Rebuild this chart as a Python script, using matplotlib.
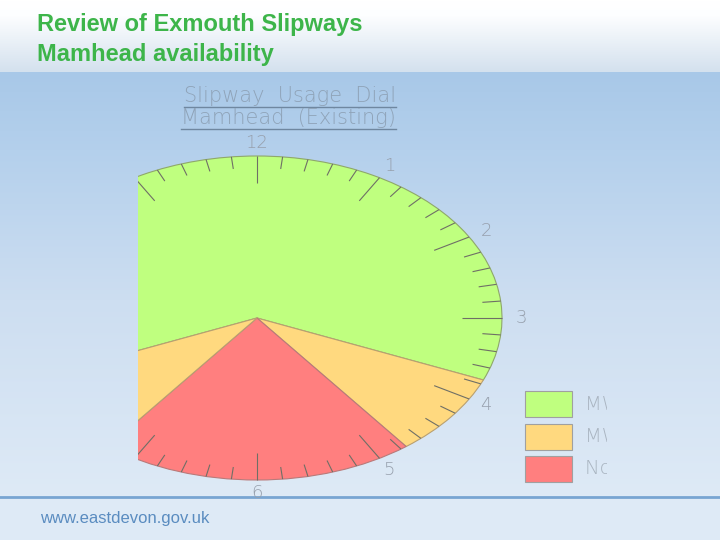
import numpy as np
import matplotlib.pyplot as plt
from matplotlib.patches import Wedge, Rectangle

# dial segments in clock hours, running clockwise from start_hour
start_hour = 8.25
seg_hours = [7.5, 1.0, 2.5, 1.0]
seg_cat = [0, 1, 2, 1]

# legend categories (labels are cut off by the crop in the original slide)
cat_names = ['MWS Available', 'MWS Marginal', 'Not Available']
cat_colors = ['#bfff7f', '#ffd97f', '#ff7f7f']
cat_edges = ['#8fa86a', '#b9a070', '#b97a7a']

hour_labels = [str(h) for h in range(1, 13)]
chart_title = ['Slipway  Usage  Dial', 'Mamhead  (Existing)']

slide_title = ['Review of Exmouth Slipways', 'Mamhead availability']
footer = 'www.eastdevon.gov.uk'

W, H = 720, 540
fig = plt.figure(figsize=(7.2, 5.4), dpi=100)

# slide background
bg = fig.add_axes([0, 0, 1, 1])
ys = np.arange(H)
stops_y = [0, 15, 71, 72, 150, 300, 495, 540]
stops_c = np.array([[255, 255, 255], [253, 254, 255], [212, 225, 238],
                    [168, 200, 232], [180, 208, 236], [205, 222, 241],
                    [222, 234, 246], [222, 235, 246]]) / 255.0
grad = np.stack([np.interp(ys, stops_y, stops_c[:, k]) for k in range(3)], axis=-1)
bg.imshow(grad[:, None, :], aspect='auto', extent=[0, W, H, 0])
bg.set_xlim(0, W)
bg.set_ylim(H, 0)
bg.axis('off')
bg.axhline(496.5, color='#78a5d2', lw=2)

bg.text(37, 25, slide_title[0], fontsize=17, fontweight='bold', color='#3db54a',
        family='Liberation Sans', va='center')
bg.text(37, 54, slide_title[1], fontsize=17, fontweight='bold', color='#3db54a',
        family='Liberation Sans', va='center')
bg.text(40, 518, footer, fontsize=12, color='#5a8cc0', family='Liberation Sans', va='center')

# dial chart, cropped at its left side like in the slide
cx, cy, rx, ry = 257, 318, 245, 162
left, right, top, bottom = 138, 607, 80, 505
ax = fig.add_axes([left / W, 1 - bottom / H, (right - left) / W, (bottom - top) / H])
xmin, xmax = (left - cx) / rx, (right - cx) / rx
ax.set_xlim(xmin, xmax)
ax.set_ylim(-(bottom - cy) / ry, (cy - top) / ry)
ax.axis('off')


def clock_deg(h):
    return 90 - 30 * h


h0 = start_hour
for dur, c in zip(seg_hours, seg_cat):
    w = Wedge((0, 0), 1, clock_deg(h0 + dur), clock_deg(h0),
              facecolor=cat_colors[c], edgecolor=cat_edges[c], lw=0.8)
    ax.add_patch(w)
    h0 += dur

# minute and hour ticks
for m in range(60):
    a = np.deg2rad(clock_deg(m / 5))
    inner = 1 - (0.165 if m % 5 == 0 else 0.075)
    ax.plot([inner * np.cos(a), np.cos(a)], [inner * np.sin(a), np.sin(a)],
            color='#6f6f66', lw=0.8, solid_capstyle='butt')

# hour numbers; the ones on the cropped-away side are not visible
for i, lab in enumerate(hour_labels):
    a = np.deg2rad(clock_deg(i + 1))
    x = 1.08 * np.cos(a)
    if x < xmin + 0.02:
        continue
    ax.text(x, 1.08 * np.sin(a), lab, ha='center', va='center',
            fontsize=13, color='#97a0ad', fontweight='light', clip_on=True)

# chart title with underlines
tx = (396 - cx) / rx
title_objs = []
for k, line in enumerate(chart_title):
    t = ax.text(tx, (cy - 96 - 22 * k) / ry, line, ha='right', va='center',
                fontsize=15, color='#8fa3b8', fontweight='light', clip_on=True)
    title_objs.append(t)

# legend
box_x, box_w, box_h, pitch = (525 - left) / (right - left), 47 / (right - left), 26 / (bottom - top), 32.5 / (bottom - top)
box_top = (bottom - 391) / (bottom - top)
for k, name in enumerate(cat_names):
    y0 = box_top - box_h - k * pitch
    ax.add_patch(Rectangle((box_x, y0), box_w, box_h, transform=ax.transAxes,
                           facecolor=cat_colors[k], edgecolor='#a0a0a0', lw=0.8))
    ax.text((585 - left) / (right - left), y0 + box_h / 2, name, transform=ax.transAxes,
            fontsize=14, color='#a9b4c0', fontweight='light', va='center', clip_on=True)

fig.canvas.draw()
r = fig.canvas.get_renderer()
inv = ax.transData.inverted()
for t in title_objs:
    bb = t.get_window_extent(r)
    x0, y0 = inv.transform((bb.x0, bb.y0 - 1))
    x1, _ = inv.transform((bb.x1, bb.y0 - 1))
    ax.plot([x0, x1], [y0, y0], color='#6f87a0', lw=1)

fig.savefig('out.png', dpi=100)
